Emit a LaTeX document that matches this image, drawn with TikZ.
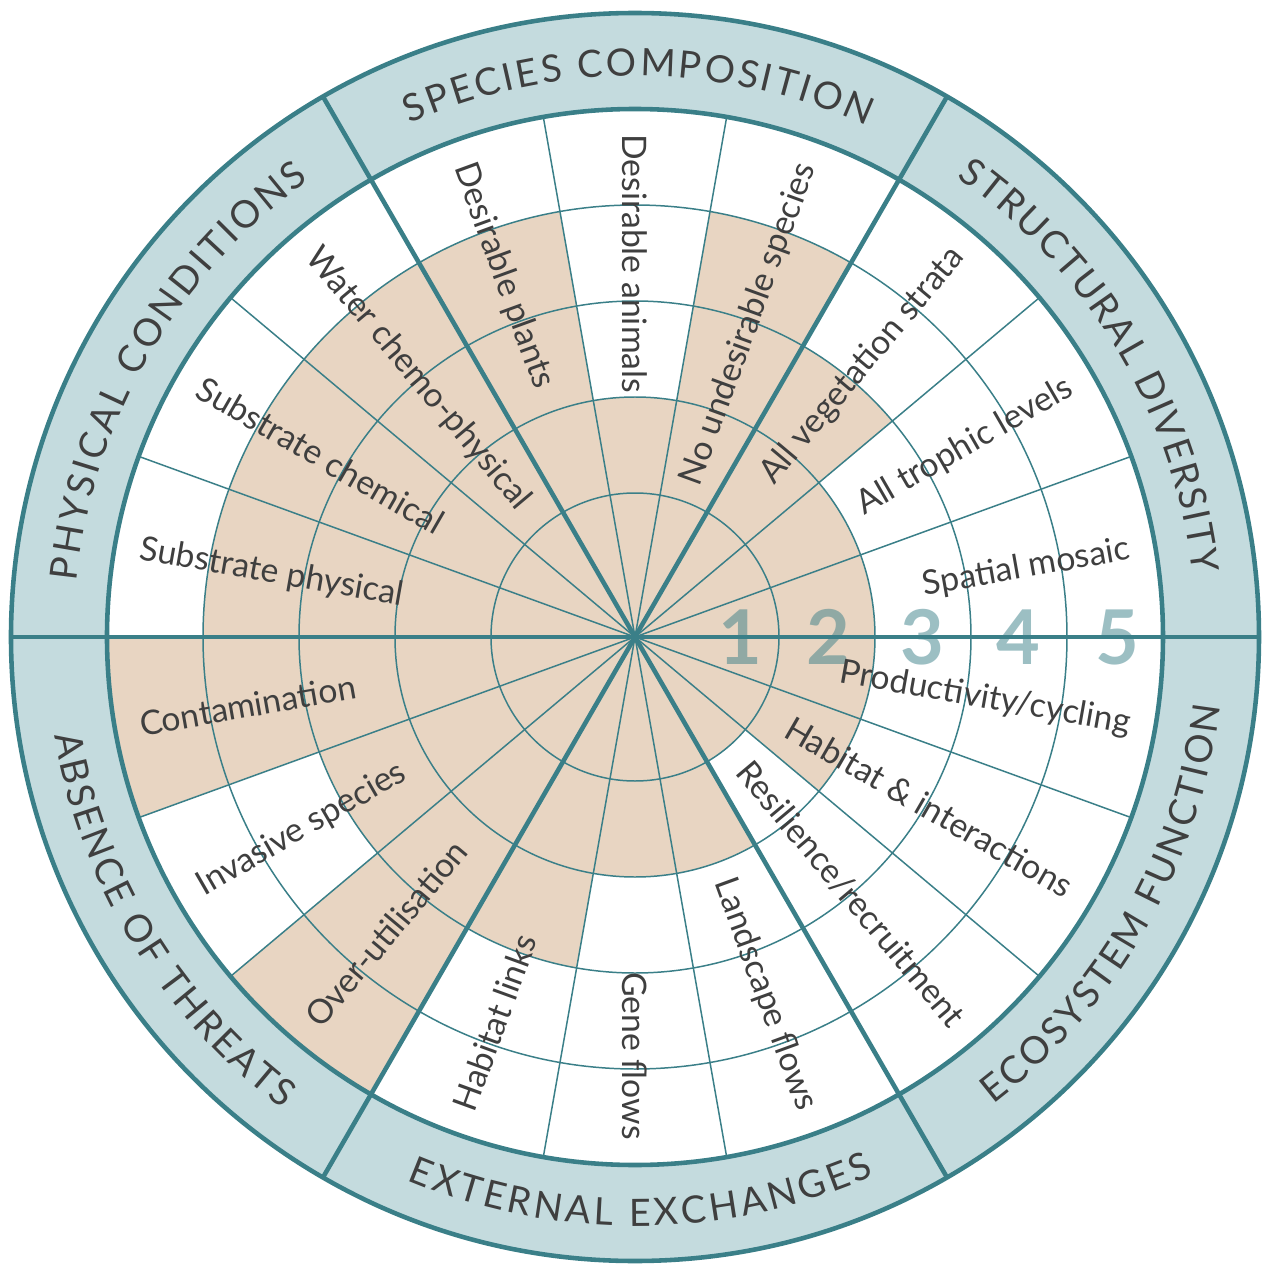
\documentclass[tikz,border=0pt]{standalone}
\usepackage{fontspec}
\setmainfont{Lato}
\usepackage{xcolor}
\usepackage{tikz}
\usetikzlibrary{decorations.text}

\definecolor{wheelteal}{HTML}{3A7F88}
\definecolor{bandblue}{HTML}{C4DBDE}
\definecolor{sand}{HTML}{E8D5C2}
\definecolor{ink}{HTML}{3F3F3F}
\newcommand{\lblfont}{\fontsize{19.2}{23}\selectfont}
\newcommand{\hdrfont}{\fontsize{21.5}{26}\selectfont}

\begin{document}
\begin{tikzpicture}[x=0.02cm, y=0.02cm,
  thinline/.style={wheelteal, line width=0.85pt},
  thickline/.style={wheelteal, line width=2.6pt},
  lbl/.style={font=\lblfont, text=ink, inner sep=0pt},
  lvl/.style={font=\fontsize{43}{48}\selectfont\bfseries, text=wheelteal, text opacity=0.5, inner sep=0pt},
  hdr/.style={decorate, decoration={text along path, text align={fit to path}, text={|\hdrfont\color{ink}|#1}}}]
  \useasboundingbox (-635,-628) rectangle (627,637);
  \fill[bandblue, even odd rule] (0,0) circle (624) (0,0) circle (528);
  \foreach \a/\l in {0/2, 20/2, 40/3, 60/4, 80/2, 100/4, 120/4, 140/4, 160/4,
                     180/5, 200/3, 220/5, 240/3, 260/2, 280/2, 300/1, 320/2, 340/2}
    \fill[sand] (0,0) -- (\a:{96*\l+48}) arc[start angle=\a, delta angle=20, radius={96*\l+48}] -- cycle;

  \node[lvl] (n1) at (105,0) {1};
  \node[lvl] (n2) at (193,0) {2};
  \node[lvl] (n3) at (287,0) {3};
  \node[lvl] (n4) at (383,0) {4};
  \node[lvl] (n5) at (482,0) {5};

  \foreach \r in {144,240,336,432}
    \draw[thinline] (0,0) circle (\r);
  \foreach \a in {20,40,80,100,140,160,200,220,260,280,320,340}
    \draw[thinline] (0,0) -- (\a:528);
  \foreach \a in {0,60,...,300}
    \draw[thickline] (0,0) -- (\a:624);
  \draw[thickline] (0,0) circle (528) (0,0) circle (624);

  \node[lbl, rotate=10, anchor=east] (spatial) at (10:503) {Spatial mosaic};
  \node[lbl, rotate=30, anchor=east] (trophic) at (30:503) {All trophic levels};
  \node[lbl, rotate=50, anchor=east] (strata) at (50:503) {All vegetation strata};
  \node[lbl, rotate=70, anchor=east] (undesirable) at (70:503) {No undesirable species};
  \node[lbl, rotate=-90, anchor=west] (animals) at (90:503) {Desirable animals};
  \node[lbl, rotate=-70, anchor=west] (plants) at (110:503) {Desirable plants};
  \node[lbl, rotate=-50, anchor=west] (water) at (130:503) {Water chemo-physical};
  \node[lbl, rotate=-30, anchor=west] (subchem) at (150:503) {Substrate chemical};
  \node[lbl, rotate=-10, anchor=west] (subphys) at (170:503) {Substrate physical};
  \node[lbl, rotate=10, anchor=west] (contam) at (190:503) {Contamination};
  \node[lbl, rotate=30, anchor=west] (invasive) at (210:503) {Invasive species};
  \node[lbl, rotate=50, anchor=west] (overuse) at (230:503) {Over-utilisation};
  \node[lbl, rotate=70, anchor=west] (hablinks) at (250:503) {Habitat links};
  \node[lbl, rotate=270, anchor=east] (gene) at (270:503) {Gene flows};
  \node[lbl, rotate=290, anchor=east] (landscape) at (290:503) {Landscape flows};
  \node[lbl, rotate=310, anchor=east] (resilience) at (310:503) {Resilience/recruitment};
  \node[lbl, rotate=330, anchor=east] (habitat) at (330:503) {Habitat \& interactions};
  \node[lbl, rotate=350, anchor=east] (productivity) at (350:503) {Productivity/cycling};

  \path[hdr={SPECIES COMPOSITION}] (113.7:561) arc[start angle=113.7, end angle=65.6, radius=561];
  \path[hdr={STRUCTURAL DIVERSITY}] (55:561) arc[start angle=55, end angle=6.5, radius=561];
  \path[hdr={PHYSICAL CONDITIONS}] (174.3:561) arc[start angle=174.3, end angle=125.5, radius=561];
  \path[hdr={ECOSYSTEM FUNCTION}] (-52.5:589) arc[start angle=-52.5, end angle=-6.7, radius=589];
  \path[hdr={ABSENCE OF THREATS}] (189.6:589) arc[start angle=189.6, end angle=233.3, radius=589];
  \path[hdr={EXTERNAL EXCHANGES}] (247.2:589) arc[start angle=247.2, end angle=294, radius=589];
\end{tikzpicture}
\end{document}
